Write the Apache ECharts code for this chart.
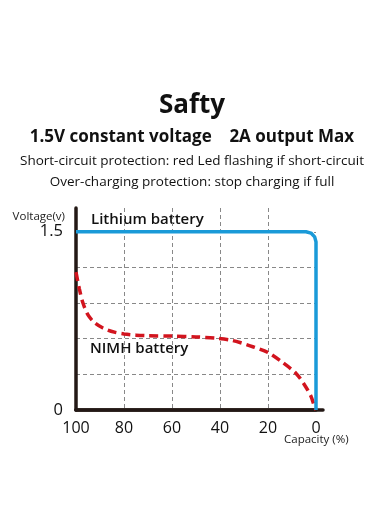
<!DOCTYPE html>
<html><head><meta charset="utf-8">
<script src="https://cdn.jsdelivr.net/npm/echarts@6/dist/echarts.min.js"></script>
<style>html,body{margin:0;padding:0;background:#fff}#c{width:384px;height:528px}</style>
</head><body><div id="c"></div>
<script>
const capacityTicks = [100, 80, 60, 40, 20, 0];
const voltageTickLabels = ['0', '1.5'];
const lithiumSeries = [[100, 1.5], [4.17, 1.5], [2.08, 1.489], [0.56, 1.457], [0, 1.415], [0, 0]];
const nimhSeries = [[100, 1.16], [98.6, 1.02], [97.1, 0.9], [95, 0.8], [92.5, 0.74], [88.75, 0.69], [84, 0.655], [80, 0.64], [75, 0.63], [70, 0.625], [60, 0.622], [50, 0.615], [42, 0.605], [36, 0.59], [31.7, 0.568], [26, 0.53], [20, 0.484], [13.9, 0.4], [8.4, 0.31], [4.9, 0.215], [2.1, 0.116], [0.7, 0.032], [0, 0]];
const titleText = 'Safty';
const subTitle = '1.5V constant voltage    2A output Max';
const line1 = 'Short-circuit protection: red Led flashing if short-circuit';
const line2 = 'Over-charging protection: stop charging if full';

const FONT = 'Open Sans';
const chart = echarts.init(document.getElementById('c'), null, {renderer: 'canvas'});
chart.setOption({
  backgroundColor: '#fff',
  animation: false,
  textStyle: {fontFamily: FONT},
  grid: [
    {left: 76, right: 68, top: 208, bottom: 118},
    {left: 76, right: 61, top: 208, bottom: 118}
  ],
  xAxis: [{
    type: 'value', gridIndex: 0, inverse: true, min: 0, max: 100, interval: 20,
    axisLine: {show: true, onZero: false, lineStyle: {color: '#231815', width: 3.5}},
    axisTick: {show: false},
    axisLabel: {color: '#111', fontSize: 16, margin: 10, fontFamily: FONT},
    splitLine: {show: true, showMinLine: false, showMaxLine: false, lineStyle: {color: '#888', type: [4, 3], width: 1}}
  }, {
    type: 'value', gridIndex: 1, min: 0, max: 1,
    axisLine: {show: true, onZero: false, lineStyle: {color: '#231815', width: 3.5}},
    axisTick: {show: false}, axisLabel: {show: false}, splitLine: {show: false}
  }],
  yAxis: [{
    type: 'value', gridIndex: 0, min: 0, max: 1.7, interval: 0.3,
    axisLine: {show: true, onZero: false, lineStyle: {color: '#231815', width: 3.5}},
    axisTick: {show: false},
    axisLabel: {
      color: '#111', fontSize: 16.5, margin: 13, fontFamily: FONT,
      formatter: v => { const s = String(Math.round(v * 10) / 10); return voltageTickLabels.includes(s) ? s : ''; }
    },
    splitLine: {show: true, showMinLine: false, showMaxLine: false, lineStyle: {color: '#888', type: [4, 3], width: 1}}
  }, {
    type: 'value', gridIndex: 1, min: 0, max: 1, show: false
  }],
  series: [{
    name: 'NIMH battery', type: 'line', xAxisIndex: 0, yAxisIndex: 0,
    data: nimhSeries, smooth: 0.3, symbol: 'none',
    lineStyle: {color: '#d2141e', width: 3.5, type: [9, 5]}, z: 3
  }, {
    name: 'Lithium battery', type: 'line', xAxisIndex: 0, yAxisIndex: 0,
    data: lithiumSeries, smooth: false, symbol: 'none',
    lineStyle: {color: '#1a9ad8', width: 3.5}, z: 4
  }],
  graphic: [
    {type: 'text', left: 'center', top: 93, style: {text: titleText, font: 'bold 26px "' + FONT + '"', fill: '#111'}},
    {type: 'text', left: 'center', top: 129, style: {text: subTitle, font: 'bold 17px "' + FONT + '"', fill: '#111'}},
    {type: 'text', left: 'center', top: 154, style: {text: line1, font: '13.5px "' + FONT + '"', fill: '#111'}},
    {type: 'text', left: 'center', top: 175, style: {text: line2, font: '13.5px "' + FONT + '"', fill: '#111'}},
    {type: 'text', right: 384 - 65, top: 211, style: {text: 'Voltage(v)', font: '11.5px "' + FONT + '"', fill: '#222'}},
    {type: 'text', left: 284, top: 434, style: {text: 'Capacity (%)', font: '11.5px "' + FONT + '"', fill: '#222'}},
    {type: 'text', left: 91, top: 212, style: {text: 'Lithium battery', font: '600 15px "' + FONT + '"', fill: '#111'}},
    {type: 'text', left: 90, top: 341, style: {text: 'NIMH battery', font: '600 15px "' + FONT + '"', fill: '#111'}}
  ]
});
</script></body></html>
